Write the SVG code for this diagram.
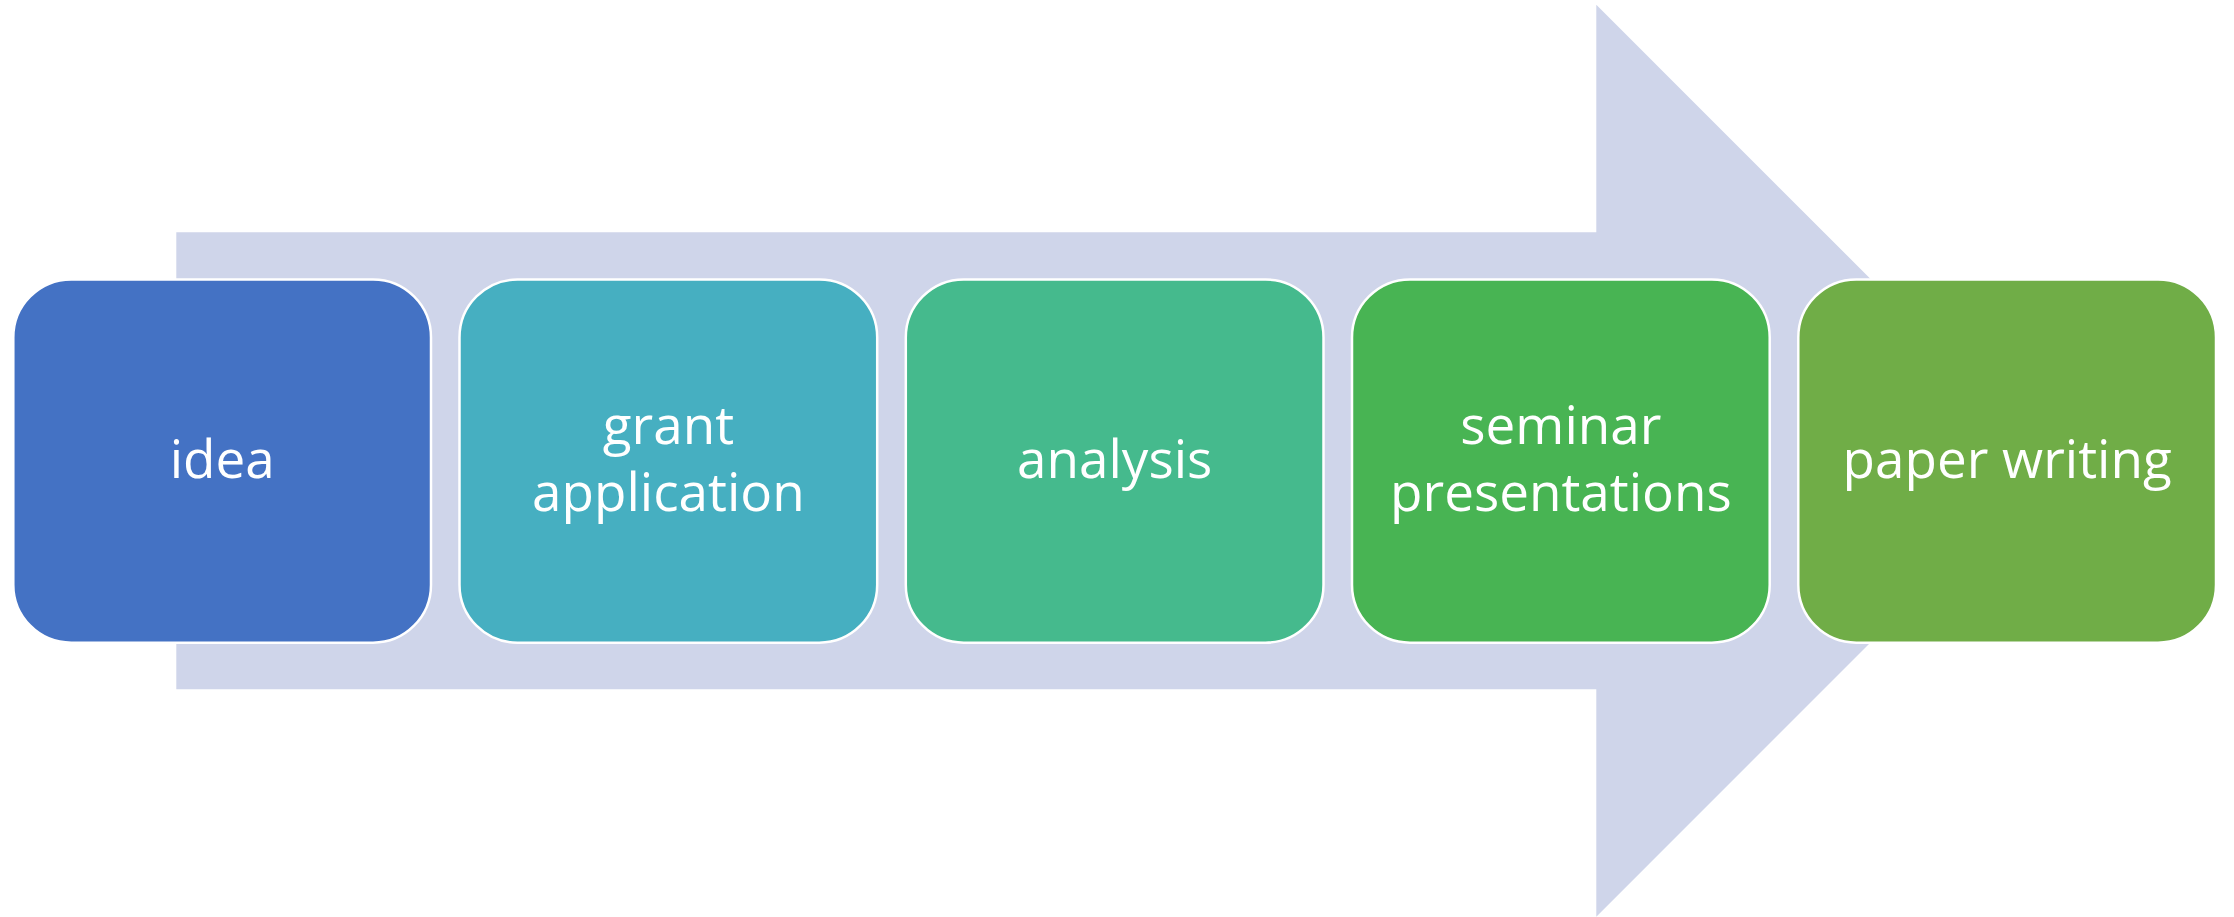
<svg xmlns="http://www.w3.org/2000/svg" width="2234" height="917" viewBox="0 0 2234 917">
  <style>
    .step { stroke: #ffffff; stroke-width: 2.5; }
    .label { font-family: "Open Sans", "Noto Sans", "Liberation Sans", sans-serif; font-size: 53px; fill: #ffffff; text-anchor: middle; }
  </style>
  <rect width="2234" height="917" fill="#ffffff"/>

  <!-- background block arrow -->
  <g id="connectors">
    <polygon fill="#CFD5EA" points="176.3,232.3 1596.3,232.3 1596.3,4.7 2052.3,460.7 1596.3,916.7 1596.3,689.3 176.3,689.3"/>
  </g>

  <g id="idea">
    <rect class="step" x="13.3" y="279.5" width="417.7" height="363.2" rx="58" ry="58" fill="#4472C4"/>
    <text class="label" x="222.2" y="478.3">idea</text>
  </g>

  <g id="grant-application">
    <rect class="step" x="459.5" y="279.5" width="417.7" height="363.2" rx="58" ry="58" fill="#46AFC1"/>
    <text class="label" x="668.4" y="444.3">grant</text>
    <text class="label" x="668.4" y="511">application</text>
  </g>

  <g id="analysis">
    <rect class="step" x="905.8" y="279.5" width="417.7" height="363.2" rx="58" ry="58" fill="#45BA8D"/>
    <text class="label" x="1114.7" y="478.3">analysis</text>
  </g>

  <g id="seminar-presentations">
    <rect class="step" x="1352" y="279.5" width="417.7" height="363.2" rx="58" ry="58" fill="#48B453"/>
    <text class="label" x="1560.9" y="444.3">seminar</text>
    <text class="label" x="1560.9" y="511">presentations</text>
  </g>

  <g id="paper-writing">
    <rect class="step" x="1798.3" y="279.5" width="417.7" height="363.2" rx="58" ry="58" fill="#70AD47"/>
    <text class="label" x="2007.2" y="478.3">paper writing</text>
  </g>
</svg>
